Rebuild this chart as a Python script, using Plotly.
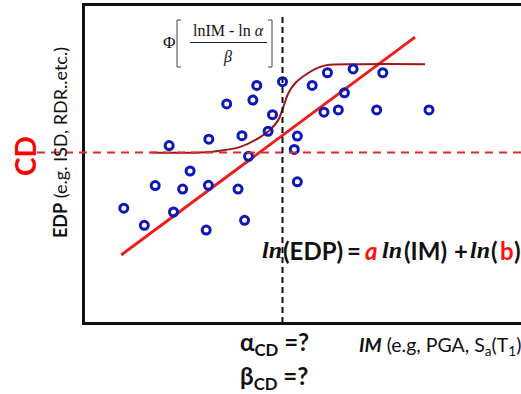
import plotly.graph_objects as go

# ---- data (abstract IM / EDP units) ----
im_points = [3.25, 3.85, 3.94, 1.93, 2.84, 3.60, 3.75, 2.41, 1.61, 2.24, 2.83, 3.51,
             0.89, 2.03, 1.36, 2.78, 3.66, 4.53, 4.30, 4.20, 4.87, 4.80, 4.87, 5.21,
             5.56, 6.15, 6.83, 5.95, 5.48, 6.69, 7.89, 5.81]
edp_points = [6.89, 7.01, 7.47, 5.58, 5.78, 5.89, 5.24, 4.78, 4.32, 4.21, 4.33, 4.21,
              3.61, 3.49, 3.07, 2.92, 3.23, 7.59, 6.55, 6.03, 5.88, 5.46, 4.44, 7.47,
              7.87, 7.99, 7.87, 7.24, 6.63, 6.70, 6.70, 6.70]

fit_im = [0.83, 7.57]
fit_edp = [2.14, 8.99]

frag_im = [1.51, 2.64, 3.10, 3.56, 4.01, 4.24, 4.43, 4.55, 4.66, 4.82, 5.05, 5.31, 5.54, 6.31, 7.80]
frag_edp = [5.36, 5.36, 5.42, 5.54, 5.84, 6.07, 6.38, 6.80, 7.22, 7.54, 7.80, 8.01, 8.11, 8.14, 8.14]

cd_level = 5.36
alpha_im = 4.53
alpha_top = 9.69

W, H = 521, 394
L, R, T, B = 85, 0, 6, 72
PW, PH = W - L - R, H - T - B


def px(x):
    return (x - L) / PW


def py(y):
    return (H - B - y) / PH


SANS = "Lato, 'Open Sans', sans-serif"
SERIF = "'Liberation Serif', 'DejaVu Serif', serif"
RED = "#ff1010"
INK = "#111111"

fig = go.Figure()

fig.add_trace(go.Scatter(x=fit_im, y=fit_edp, mode="lines",
                         line=dict(color="#ee1c1c", width=3), hoverinfo="skip"))
fig.add_trace(go.Scatter(x=frag_im, y=frag_edp, mode="lines", line_shape="spline",
                         line=dict(color="#a31515", width=2), hoverinfo="skip"))
fig.add_trace(go.Scatter(x=im_points, y=edp_points, mode="markers",
                         marker=dict(symbol="circle-open", size=8, color="#0b17b8",
                                     line=dict(width=3, color="#0b17b8"))))

shapes = [
    dict(type="line", xref="paper", yref="y", x0=px(37), x1=1, y0=cd_level, y1=cd_level,
         line=dict(color="#dc2c2c", width=2, dash="8px,6px")),
    dict(type="line", xref="x", yref="y", x0=alpha_im, x1=alpha_im, y0=0, y1=alpha_top,
         line=dict(color=INK, width=2, dash="6px,4px")),
    dict(type="path", xref="paper", yref="paper",
         path=f"M {px(181)} {py(20)} L {px(177)} {py(20)} L {px(177)} {py(67)} L {px(181)} {py(67)}",
         line=dict(color="#444444", width=1)),
    dict(type="path", xref="paper", yref="paper",
         path=f"M {px(268)} {py(20)} L {px(272)} {py(20)} L {px(272)} {py(67)} L {px(268)} {py(67)}",
         line=dict(color="#444444", width=1)),
    dict(type="line", xref="paper", yref="paper", x0=px(190), x1=px(267), y0=py(42.5), y1=py(42.5),
         line=dict(color="#222222", width=1)),
]

ann = []


def add(text, x, y, size, color=INK, family=SANS, angle=0, xanchor="center"):
    ann.append(dict(text=text, x=px(x), y=py(y), xref="paper", yref="paper",
                    showarrow=False, textangle=angle, xanchor=xanchor, yanchor="middle",
                    font=dict(size=size, color=color, family=family)))


add("Φ", 169, 42, 17, family=SERIF)
add("lnIM - ln <i>α</i>", 228, 31, 16, family=SERIF)
add("<i>β</i>", 227, 57, 16, family=SERIF)

add("<b>CD</b>", 25, 156, 28, color="#ff0000", angle=-90)
add("<b>EDP</b> (e.g. ISD, RDR..etc.)", 60, 143, 18, angle=-90)

# equation  ln(EDP) = a ln(IM) + ln(b)  built from pieces
EQY, EQS = 250, 24
eq_pieces = [
    ("<b><i>ln</i></b>", 260, SERIF, INK),
    ("<b>(EDP)</b>", 281, SANS, INK),
    ("<b>=</b>", 345, SANS, INK),
    ("<b><i>a</i></b>", 363, SANS, RED),
    ("<b><i>ln</i></b>", 380, SERIF, INK),
    ("<b>(IM)</b>", 402, SANS, INK),
    ("<b>+</b>", 452, SANS, INK),
    ("<b><i>ln</i></b>", 468, SERIF, INK),
    ("<b>(</b>", 489, SANS, INK),
    ("<b>b</b>", 498, SANS, RED),
    ("<b>)</b>", 512, SANS, INK),
]
for txt, x, fam, col in eq_pieces:
    add(txt, x, EQY, EQS, color=col, family=fam, xanchor="left")

add("<b>α<sub>CD</sub> =?</b>", 238, 343, 24, xanchor="left")
add("<b>β<sub>CD</sub> =?</b>", 238, 377, 24, xanchor="left")
add("<b><i>IM</i></b> (e.g, PGA, S<sub>a</sub>(T<sub>1</sub>)", 357, 346, 19.5, xanchor="left")

fig.update_layout(
    width=W, height=H, margin=dict(l=L, r=R, t=T, b=B),
    paper_bgcolor="white", plot_bgcolor="white", showlegend=False,
    shapes=shapes, annotations=ann,
    xaxis=dict(range=[0, 10], showgrid=False, zeroline=False, showticklabels=False, ticks="",
               showline=True, linecolor=INK, linewidth=3, mirror=True),
    yaxis=dict(range=[0.03, 9.97], showgrid=False, zeroline=False, showticklabels=False, ticks="",
               showline=True, linecolor=INK, linewidth=3),
)

fig.write_html("out.html")
